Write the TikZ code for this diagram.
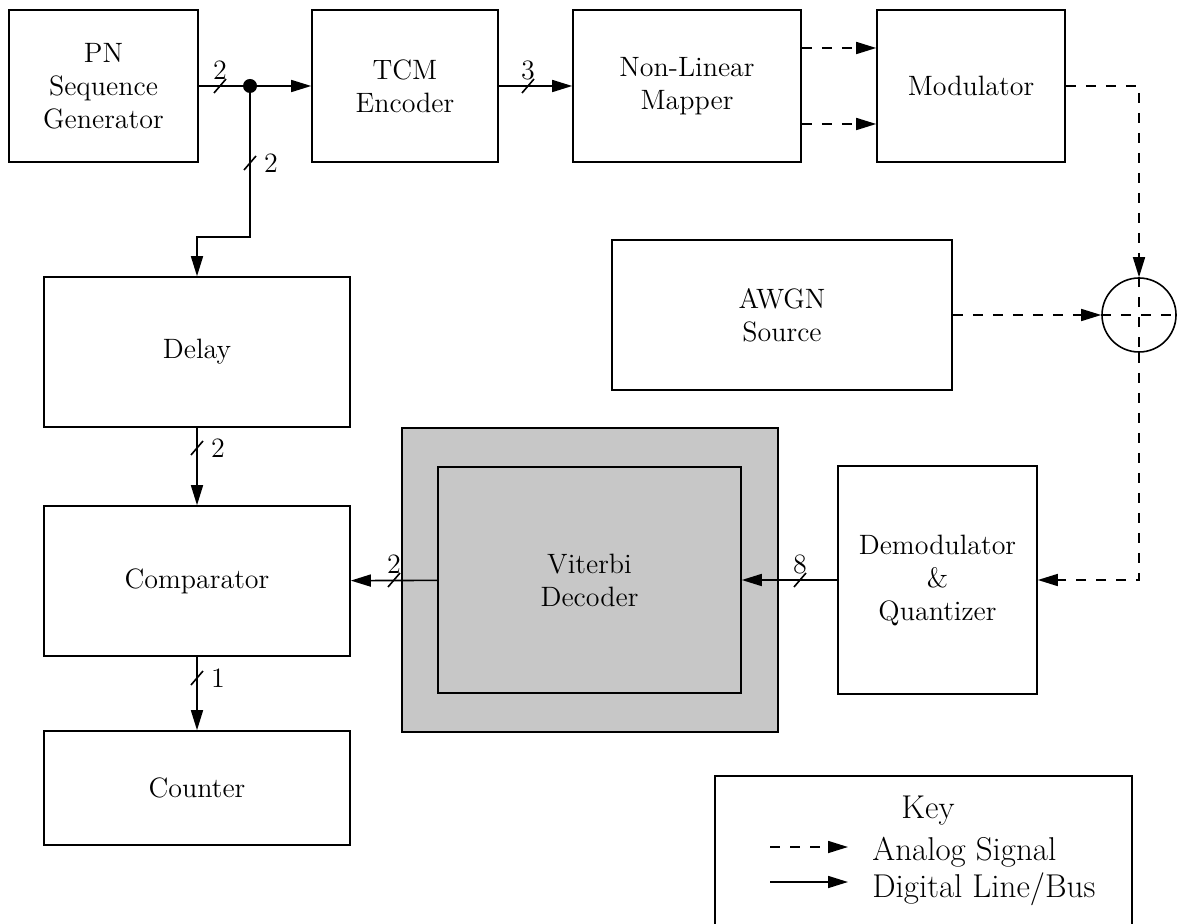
\documentclass[tikz,border=0pt]{standalone}
\usepackage{tikz}
\usetikzlibrary{arrows.meta,positioning}

\newcommand{\blocksize}{\fontsize{14}{16.5}\selectfont}
\newcommand{\keysize}{\fontsize{16.5}{18.5}\selectfont}
% slash on a bus line, label above (horizontal) or right (vertical)
\newcommand{\hbus}[4]{\draw[thin line] (#1-6,#2+7) -- (#1+6,#2-7);
  \node[font=\blocksize] (#4) at (#1,#2-16) {#3};}
\newcommand{\vbus}[4]{\draw[thin line] (#1-6,#2+7) -- (#1+6,#2-7);
  \node[font=\blocksize] (#4) at (#1+21,#2) {#3};}

\tikzset{
  thin line/.style={line width=0.8pt},
  block/.style={draw, line width=0.8pt, align=center, inner sep=0pt, font=\blocksize},
  digital/.style={line width=0.8pt, -{Triangle[length=10pt,width=6pt]}},
  analog/.style={line width=0.8pt, dash pattern=on 5pt off 5pt, -{Triangle[length=10pt,width=6pt]}},
  shaded/.style={block, fill=black!22},
}

\begin{document}
\begin{tikzpicture}[x=0.5pt, y=-0.5pt]
    \useasboundingbox (0,0) rectangle (1187,924);

    % transmitter
    \node[block, minimum width=94.5pt, minimum height=76pt] (pn) at (103.5,86) {PN\\Sequence\\Generator};
    \node[block, minimum width=93pt, minimum height=76pt] (tcm) at (405,86) {TCM\\Encoder};
    \node[block, minimum width=114pt, minimum height=76pt] (mapper) at (687,86) {Non-Linear\\Mapper};
    \node[block, minimum width=94pt, minimum height=76pt] (mod) at (971,86) {Modulator};

    % channel
    \node[block, minimum width=170pt, minimum height=75pt] (awgn) at (782,315) {AWGN\\Source};
    \node[draw, thin line, circle, minimum size=37pt, inner sep=0pt] (sum) at (1139,315) {};
    \draw[thin line, dash pattern=on 5pt off 5pt] (sum.north) -- (sum.south);
    \draw[thin line, dash pattern=on 5pt off 5pt] (sum.west) -- (sum.east);

    % receiver
    \node[block, minimum width=153pt, minimum height=75pt] (delay) at (197,352) {Delay};
    \node[block, minimum width=153pt, minimum height=75pt] (comp) at (197,581) {Comparator};
    \node[block, minimum width=153pt, minimum height=57pt] (counter) at (197,788) {Counter};
    \node[shaded, minimum width=188pt, minimum height=152pt] (vitbox) at (590,580) {};
    \node[shaded, minimum width=151.5pt, minimum height=113pt] (viterbi) at (589.5,580) {Viterbi\\Decoder};
    \node[block, minimum width=99.5pt, minimum height=114pt] (demod) at (937.5,580) {Demodulator\\\&\\Quantizer};

    % digital lines
    \node[circle, fill, inner sep=0pt, minimum size=7pt] (split) at (250,86) {};
    \coordinate (turn) at (250,237);
    \draw[thin line] (pn) -- (split);
    \draw[digital] (split) -- (tcm);
    \draw[digital] (split) -- (turn) -| (delay);
    \draw[digital] (tcm) -- (mapper);
    \draw[digital] (delay) -- (comp);
    \draw[digital] (comp) -- (counter);
    \draw[digital] (viterbi) -- (comp);
    \draw[digital] (demod) -- (viterbi);
    \hbus{220}{86}{2}{b1}
    \vbus{250}{163}{2}{b2}
    \hbus{528}{86}{3}{b3}
    \vbus{197}{448}{2}{b4}
    \vbus{197}{678}{1}{b5}
    \hbus{394}{580}{2}{b6}
    \hbus{800}{580}{8}{b7}

    % analog lines
    \draw[analog] ([yshift=19pt]mapper.east) -- ([yshift=19pt]mod.west);
    \draw[analog] ([yshift=-19pt]mapper.east) -- ([yshift=-19pt]mod.west);
    \draw[analog] (mod) -| (sum);
    \draw[analog] (awgn) -- (sum);
    \draw[analog] (sum) |- (demod);

    % key
    \draw[line width=1.2pt] (715,930) -- (715,776) -- (1132,776) -- (1132,930);
    \node[font=\keysize] (keytitle) at (928,811) {Key};
    \node[font=\keysize, inner sep=0pt, anchor=base west] (keyana) at (872,860) {Analog Signal};
    \node[font=\keysize, inner sep=0pt, anchor=base west] (keydig) at (872,897) {Digital Line/Bus};
    \coordinate (ka1) at (770,847);
    \coordinate (ka2) at (848,847);
    \coordinate (kd1) at (770,882);
    \coordinate (kd2) at (848,882);
    \draw[analog] (ka1) -- (ka2);
    \draw[digital] (kd1) -- (kd2);
\end{tikzpicture}
\end{document}
